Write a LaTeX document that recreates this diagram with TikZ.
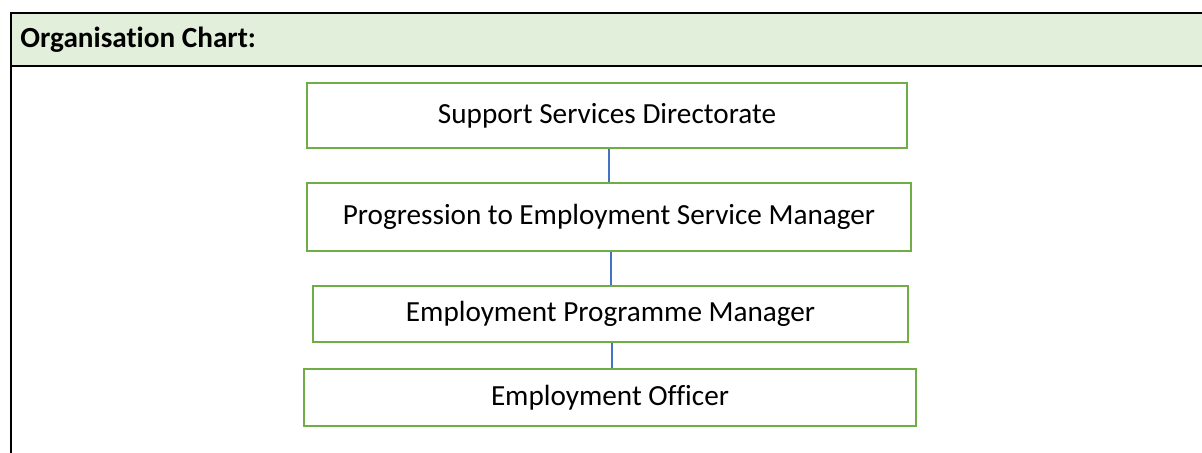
\documentclass[tikz,border=0pt]{standalone}
\usepackage{fontspec}
\setmainfont[Ligatures={NoCommon}]{Carlito}
\definecolor{hdrfill}{HTML}{E2EFDA}
\definecolor{boxgreen}{HTML}{70AD47}
\definecolor{linkblue}{HTML}{4472C4}
\begin{document}
\begin{tikzpicture}[x=0.5pt,y=-0.5pt,
  rolebox/.style={draw=boxgreen, line width=1.25pt, fill=white, inner sep=0pt,
    font=\fontsize{14.6}{17}\selectfont},
  frameline/.style={draw=black, line width=1pt},
  link/.style={draw=linkblue, line width=0.6pt}]
\useasboundingbox (0,0) rectangle (1202,453);
\fill[white] (0,0) rectangle (1202,453);
% header band
\fill[hdrfill] (11,13) rectangle (1202,66);
\node[anchor=west, font=\fontsize{14.6}{17}\selectfont\bfseries, inner sep=0pt] (hdr) at (20,40) {Organisation Chart:};
\draw[frameline] (1202,13) -- (11,13) -- (11,453);
\draw[frameline] (11,66) -- (1202,66);
% boxes
\node[rolebox, minimum width=300pt, minimum height=32.5pt] (n1) at (607,115.5) {Support Services Directorate};
\node[rolebox, minimum width=302pt, minimum height=34pt] (n2) at (609,217) {Progression to Employment Service Manager};
\node[rolebox, minimum width=297.5pt, minimum height=28pt] (n3) at (610.5,314) {Employment Programme Manager};
\node[rolebox, minimum width=306pt, minimum height=28.5pt] (n4) at (610,397.5) {Employment Officer};
% connectors
\coordinate (c1) at (609,0);
\coordinate (c2) at (611,0);
\coordinate (c3) at (612,0);
\draw[link] (n1.south -| c1) -- (n2.north -| c1);
\draw[link] (n2.south -| c2) -- (n3.north -| c2);
\draw[link] (n3.south -| c3) -- (n4.north -| c3);
\end{tikzpicture}
\end{document}
